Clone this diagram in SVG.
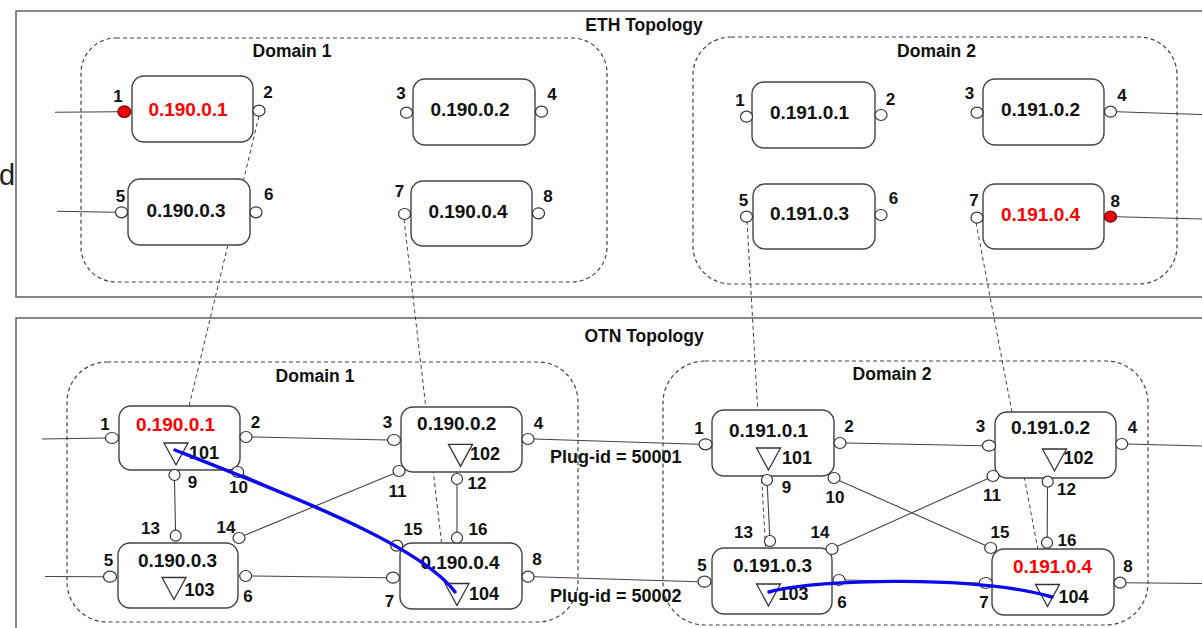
<svg xmlns="http://www.w3.org/2000/svg" xmlns:xlink="http://www.w3.org/1999/xlink" width="1202" height="628" viewBox="0 0 1202 628">
  <style>
    text { font-family: "Liberation Sans", Arial, sans-serif; font-weight: bold; fill: #111; }
    .frame { fill: none; stroke: #555; stroke-width: 1.4; }
    .domain { fill: none; stroke: #444; stroke-width: 1.2; stroke-dasharray: 4 3; }
    .box { fill: #fff; stroke: #444; stroke-width: 1.4; }
    .port { fill: #fff; stroke: #333; stroke-width: 1.2; }
    .port.on { fill: #e8000b; stroke: #7a0000; }
    .tri { fill: none; stroke: #333; stroke-width: 1.3; }
    .wire { fill: none; stroke: #444; stroke-width: 1.1; }
    .map { fill: none; stroke: #444; stroke-width: 1; stroke-dasharray: 4 3; }
    .path { fill: none; stroke: #0a0af0; stroke-width: 3.4; stroke-linecap: round; }
    .title { font-size: 17.5px; text-anchor: middle; }
    .name { font-size: 19px; text-anchor: middle; }
    .name.on { fill: #ff0000; }
    .pl { font-size: 17px; text-anchor: middle; }
    .num { font-size: 18px; text-anchor: middle; }
    .plug { font-size: 18px; }
  </style>
  <defs>
    <path id="tri" class="tri" d="M-12,0 H12 L0,22 Z"/>
  </defs>

  <rect width="1202" height="628" fill="#fff"/>

  <!-- stray glyph at the left margin -->
  <text x="-1" y="185" style="font-family:'Liberation Sans',Arial,sans-serif;font-weight:normal;font-size:29px;fill:#222">d</text>

  <!-- topology frames -->
  <g id="eth-frame">
    <rect class="frame" x="16" y="11" width="1210" height="286"/>
    <text class="title" x="644" y="30.5">ETH Topology</text>
  </g>
  <g id="otn-frame">
    <rect class="frame" x="16" y="318" width="1210" height="330"/>
    <text class="title" x="644" y="342">OTN Topology</text>
  </g>

  <!-- domains -->
  <g id="eth-domain1">
    <rect class="domain" x="81" y="38" width="526" height="244" rx="35"/>
    <text class="title" x="292" y="57">Domain 1</text>
  </g>
  <g id="eth-domain2">
    <rect class="domain" x="693" y="37" width="484" height="247" rx="38"/>
    <text class="title" x="936.5" y="57">Domain 2</text>
  </g>
  <g id="otn-domain1">
    <rect class="domain" x="67" y="362" width="511" height="260" rx="40"/>
    <text class="title" x="315" y="381.5">Domain 1</text>
  </g>
  <g id="otn-domain2">
    <rect class="domain" x="663" y="361" width="485" height="264" rx="42"/>
    <text class="title" x="892" y="380">Domain 2</text>
  </g>

  <!-- connectors -->
  <g id="connectors">
    <!-- ETH external links -->
    <line class="wire" x1="55" y1="112.3" x2="118" y2="111.7"/>
    <line class="wire" x1="57" y1="211.3" x2="115" y2="212.3"/>
    <line class="wire" x1="1117" y1="111.7" x2="1202" y2="114.5"/>
    <line class="wire" x1="1117" y1="216.7" x2="1202" y2="219"/>
    <!-- OTN domain 1 -->
    <line class="wire" x1="42" y1="439" x2="105.7" y2="438"/>
    <line class="wire" x1="45" y1="576.5" x2="104" y2="576.7"/>
    <line class="wire" x1="251.7" y1="437" x2="388" y2="440"/>
    <line class="wire" x1="174.5" y1="480.5" x2="175.5" y2="530.2"/>
    <line class="wire" x1="242.7" y1="474.5" x2="391.7" y2="543"/>
    <line class="wire" x1="394" y1="473.5" x2="244" y2="535.5"/>
    <line class="wire" x1="457" y1="484.5" x2="457" y2="532.2"/>
    <line class="wire" x1="251.7" y1="576" x2="387" y2="577.7"/>
    <!-- inter-domain plugs -->
    <line class="wire" x1="534" y1="439" x2="699" y2="444.3"/>
    <line class="wire" x1="534" y1="576.7" x2="698" y2="581.7"/>
    <!-- OTN domain 2 -->
    <line class="wire" x1="846" y1="443" x2="983" y2="445.7"/>
    <line class="wire" x1="767.3" y1="485.5" x2="769.7" y2="535.5"/>
    <line class="wire" x1="839" y1="480.5" x2="985.7" y2="545.5"/>
    <line class="wire" x1="988" y1="478.5" x2="837" y2="546.5"/>
    <line class="wire" x1="1047.5" y1="487.2" x2="1047.2" y2="537.2"/>
    <line class="wire" x1="845" y1="580" x2="979.7" y2="583"/>
    <line class="wire" x1="1127.7" y1="444" x2="1202" y2="446"/>
    <line class="wire" x1="1126" y1="582.7" x2="1202" y2="583.5"/>
    <!-- ETH to OTN mapping -->
    <line class="map" x1="259" y1="116" x2="178" y2="452"/>
    <line class="map" x1="404" y1="219" x2="447" y2="590"/>
    <line class="map" x1="747" y1="221" x2="768" y2="590"/>
    <line class="map" x1="976" y1="222.5" x2="1046" y2="592"/>
  </g>

  <!-- ETH domain 1 nodes -->
  <g id="eth-190-0-1">
    <rect class="box" x="132" y="76" width="121" height="66" rx="12"/>
    <text class="name on" x="188" y="116">0.190.0.1</text>
    <ellipse class="port on" cx="124.3" cy="111.7" rx="6.5" ry="5.8"/>
    <ellipse class="port" cx="259" cy="110.7" rx="6" ry="5.5"/>
    <text class="pl" x="118" y="101.7">1</text>
    <text class="pl" x="268" y="98.3">2</text>
  </g>
  <g id="eth-190-0-2">
    <rect class="box" x="413" y="79" width="122" height="66" rx="12"/>
    <text class="name" x="470" y="116">0.190.0.2</text>
    <ellipse class="port" cx="406.5" cy="112.7" rx="6" ry="5.5"/>
    <ellipse class="port" cx="541.5" cy="111.7" rx="6" ry="5.5"/>
    <text class="pl" x="401" y="99">3</text>
    <text class="pl" x="552" y="100">4</text>
  </g>
  <g id="eth-190-0-3">
    <rect class="box" x="128" y="179" width="122" height="66" rx="12"/>
    <text class="name" x="186" y="217">0.190.0.3</text>
    <ellipse class="port" cx="121.5" cy="212.3" rx="6" ry="5.5"/>
    <ellipse class="port" cx="256" cy="212.3" rx="6" ry="5.5"/>
    <text class="pl" x="120.5" y="201.7">5</text>
    <text class="pl" x="268.7" y="200">6</text>
  </g>
  <g id="eth-190-0-4">
    <rect class="box" x="411" y="181" width="121" height="65" rx="12"/>
    <text class="name" x="468" y="218">0.190.0.4</text>
    <ellipse class="port" cx="404.5" cy="214" rx="6" ry="5.5"/>
    <ellipse class="port" cx="538.5" cy="213.3" rx="6" ry="5.5"/>
    <text class="pl" x="399.5" y="196.7">7</text>
    <text class="pl" x="548" y="201.7">8</text>
  </g>

  <!-- ETH domain 2 nodes -->
  <g id="eth-191-0-1">
    <rect class="box" x="752" y="82" width="123" height="66" rx="12"/>
    <text class="name" x="809.5" y="119">0.191.0.1</text>
    <ellipse class="port" cx="746.5" cy="116.7" rx="6" ry="5.5"/>
    <ellipse class="port" cx="881" cy="115" rx="6" ry="5.5"/>
    <text class="pl" x="740" y="106">1</text>
    <text class="pl" x="890.5" y="105">2</text>
  </g>
  <g id="eth-191-0-2">
    <rect class="box" x="983" y="79" width="121" height="66" rx="12"/>
    <text class="name" x="1040.5" y="116">0.191.0.2</text>
    <ellipse class="port" cx="977" cy="112.7" rx="6" ry="5.5"/>
    <ellipse class="port" cx="1110.5" cy="111.7" rx="6" ry="5.5"/>
    <text class="pl" x="969.5" y="99.3">3</text>
    <text class="pl" x="1122" y="100.7">4</text>
  </g>
  <g id="eth-191-0-3">
    <rect class="box" x="753" y="184" width="122" height="65" rx="12"/>
    <text class="name" x="809.5" y="220">0.191.0.3</text>
    <ellipse class="port" cx="746.5" cy="216.7" rx="6" ry="5.5"/>
    <ellipse class="port" cx="881" cy="215" rx="6" ry="5.5"/>
    <text class="pl" x="743.5" y="206">5</text>
    <text class="pl" x="893.5" y="204">6</text>
  </g>
  <g id="eth-191-0-4">
    <rect class="box" x="983" y="184" width="121" height="65" rx="12"/>
    <text class="name on" x="1040.5" y="221">0.191.0.4</text>
    <ellipse class="port" cx="977" cy="217.7" rx="6" ry="5.5"/>
    <ellipse class="port on" cx="1110.5" cy="216.7" rx="6" ry="5.5"/>
    <text class="pl" x="974" y="206">7</text>
    <text class="pl" x="1115.3" y="206.7">8</text>
  </g>

  <!-- OTN domain 1 nodes -->
  <g id="otn-190-0-1">
    <rect class="box" x="119" y="406" width="121" height="64" rx="12"/>
    <text class="name on" x="175.5" y="430.7">0.190.0.1</text>
    <use xlink:href="#tri" x="176" y="443"/>
    <text class="num" x="204" y="459">101</text>
    <ellipse class="port" cx="112" cy="438" rx="6.5" ry="5.5"/>
    <ellipse class="port" cx="246" cy="437" rx="6" ry="5.5"/>
    <ellipse class="port" cx="174.5" cy="475" rx="5.5" ry="5.5"/>
    <ellipse class="port" cx="237.7" cy="472" rx="6" ry="5.5"/>
    <text class="pl" x="105" y="430">1</text>
    <text class="pl" x="255.5" y="428">2</text>
    <text class="pl" x="192.5" y="487.7">9</text>
    <text class="pl" x="238.5" y="493">10</text>
  </g>
  <g id="otn-190-0-2">
    <rect class="box" x="401" y="407" width="121" height="65" rx="12"/>
    <text class="name" x="456.7" y="430">0.190.0.2</text>
    <use xlink:href="#tri" x="460.5" y="444.3"/>
    <text class="num" x="485" y="460">102</text>
    <ellipse class="port" cx="394" cy="440" rx="6.5" ry="5.5"/>
    <ellipse class="port" cx="528" cy="439" rx="6" ry="5.5"/>
    <ellipse class="port" cx="399" cy="471" rx="6" ry="5.5"/>
    <ellipse class="port" cx="457" cy="479" rx="5.5" ry="5.5"/>
    <text class="pl" x="387.5" y="428">3</text>
    <text class="pl" x="538.5" y="429">4</text>
    <text class="pl" x="397.5" y="496.7">11</text>
    <text class="pl" x="477" y="489">12</text>
  </g>
  <g id="otn-190-0-3">
    <rect class="box" x="118" y="543" width="120" height="65" rx="12"/>
    <text class="name" x="177.5" y="566.7">0.190.0.3</text>
    <use xlink:href="#tri" x="174" y="577.5"/>
    <text class="num" x="199.5" y="596">103</text>
    <ellipse class="port" cx="110" cy="576.7" rx="6.5" ry="5.5"/>
    <ellipse class="port" cx="245.7" cy="576" rx="6" ry="5.5"/>
    <ellipse class="port" cx="175.7" cy="535.7" rx="5.5" ry="5.5"/>
    <ellipse class="port" cx="239" cy="538" rx="6" ry="5.5"/>
    <text class="pl" x="108.5" y="565.7">5</text>
    <text class="pl" x="248" y="601.7">6</text>
    <text class="pl" x="150.5" y="534">13</text>
    <text class="pl" x="226" y="533">14</text>
  </g>
  <g id="otn-190-0-4">
    <rect class="box" x="400" y="543" width="122" height="66" rx="12"/>
    <text class="name" x="460" y="569">0.190.0.4</text>
    <use xlink:href="#tri" x="457" y="583.5"/>
    <text class="num" x="484" y="600">104</text>
    <ellipse class="port" cx="393" cy="577.7" rx="6.5" ry="5.5"/>
    <ellipse class="port" cx="528" cy="576.7" rx="6" ry="5.5"/>
    <ellipse class="port" cx="396.7" cy="545.7" rx="6" ry="5.5"/>
    <ellipse class="port" cx="457" cy="537.7" rx="5.5" ry="5.5"/>
    <text class="pl" x="389.5" y="606.7">7</text>
    <text class="pl" x="537" y="565">8</text>
    <text class="pl" x="413" y="535">15</text>
    <text class="pl" x="478" y="535">16</text>
  </g>

  <!-- plug identifiers between the OTN domains -->
  <g id="plug-ids">
    <text class="plug" x="550" y="462.7">Plug-id = 50001</text>
    <text class="plug" x="550" y="601.7">Plug-id = 50002</text>
  </g>

  <!-- OTN domain 2 nodes -->
  <g id="otn-191-0-1">
    <rect class="box" x="712" y="410" width="122" height="66" rx="12"/>
    <text class="name" x="768.5" y="437">0.191.0.1</text>
    <use xlink:href="#tri" x="768.5" y="448"/>
    <text class="num" x="797" y="464">101</text>
    <ellipse class="port" cx="705.5" cy="444.3" rx="6.5" ry="5.5"/>
    <ellipse class="port" cx="840" cy="443" rx="6" ry="5.5"/>
    <ellipse class="port" cx="767" cy="480" rx="5.5" ry="5.5"/>
    <ellipse class="port" cx="834" cy="478" rx="6" ry="5.5"/>
    <text class="pl" x="699" y="434">1</text>
    <text class="pl" x="849" y="432">2</text>
    <text class="pl" x="786.5" y="493">9</text>
    <text class="pl" x="835" y="503">10</text>
  </g>
  <g id="otn-191-0-2">
    <rect class="box" x="995" y="412" width="121" height="66" rx="12"/>
    <text class="name" x="1050.5" y="434">0.191.0.2</text>
    <use xlink:href="#tri" x="1054.5" y="449"/>
    <text class="num" x="1078.5" y="464">102</text>
    <ellipse class="port" cx="989" cy="445.7" rx="6.5" ry="5.5"/>
    <ellipse class="port" cx="1121.7" cy="444" rx="6" ry="5.5"/>
    <ellipse class="port" cx="993" cy="476" rx="6" ry="5.5"/>
    <ellipse class="port" cx="1047.7" cy="481.7" rx="5.5" ry="5.5"/>
    <text class="pl" x="980.5" y="432">3</text>
    <text class="pl" x="1132.5" y="433">4</text>
    <text class="pl" x="992" y="501">11</text>
    <text class="pl" x="1066.5" y="495">12</text>
  </g>
  <g id="otn-191-0-3">
    <rect class="box" x="712" y="548" width="120" height="66" rx="12"/>
    <text class="name" x="772.5" y="571.7">0.191.0.3</text>
    <use xlink:href="#tri" x="768.5" y="584"/>
    <text class="num" x="793.5" y="600">103</text>
    <ellipse class="port" cx="704.5" cy="581.7" rx="6.5" ry="5.5"/>
    <ellipse class="port" cx="839" cy="580" rx="6" ry="5.5"/>
    <ellipse class="port" cx="770" cy="541" rx="5.5" ry="5.5"/>
    <ellipse class="port" cx="832" cy="549" rx="6" ry="5.5"/>
    <text class="pl" x="702" y="571">5</text>
    <text class="pl" x="842" y="608">6</text>
    <text class="pl" x="743.5" y="538">13</text>
    <text class="pl" x="820" y="537.7">14</text>
  </g>
  <g id="otn-191-0-4">
    <rect class="box" x="992" y="549" width="122" height="66" rx="12"/>
    <text class="name on" x="1052.5" y="573">0.191.0.4</text>
    <use xlink:href="#tri" x="1047.5" y="584.5"/>
    <text class="num" x="1073.5" y="603">104</text>
    <ellipse class="port" cx="985.7" cy="583" rx="6.5" ry="5.5"/>
    <ellipse class="port" cx="1120" cy="582.7" rx="6" ry="5.5"/>
    <ellipse class="port" cx="990.7" cy="548" rx="6" ry="5.5"/>
    <ellipse class="port" cx="1047" cy="542.7" rx="5.5" ry="5.5"/>
    <text class="pl" x="984" y="608">7</text>
    <text class="pl" x="1128" y="571.7">8</text>
    <text class="pl" x="1000" y="538">15</text>
    <text class="pl" x="1067" y="545.7">16</text>
  </g>

  <!-- service paths through the OTN domains -->
  <g id="service-paths">
    <path class="path" d="M175,450 C290,495 420,545 455,592"/>
    <path class="path" d="M769,592 C820,578 980,576 1052,597"/>
  </g>
</svg>
